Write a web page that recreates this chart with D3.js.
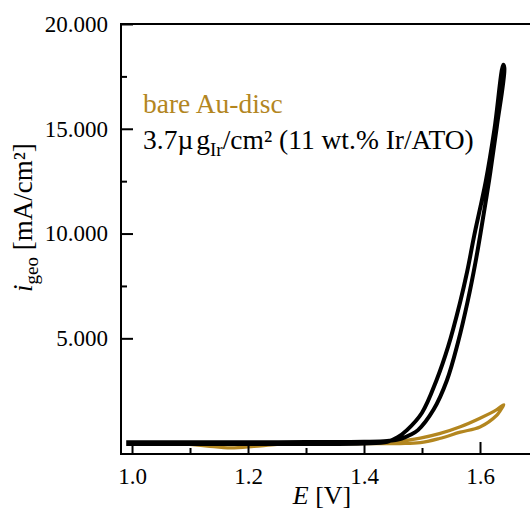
<!DOCTYPE html>
<html>
<head>
<meta charset="utf-8">
<script src="https://cdn.jsdelivr.net/npm/d3@7"></script>
<style>
  body { margin: 0; background: #fff; }
  svg { display: block; font-family: "Liberation Serif", "Times New Roman", serif; }
</style>
</head>
<body>
<div id="chart"></div>
<script>
// data (E in V, i in mA/cm2)
const goldColor = '#b3861f';

// bare Au-disc, anodic then cathodic sweep
const auE = [1.10, 1.13, 1.17, 1.21, 1.25, 1.30, 1.35, 1.40, 1.462, 1.497, 1.53, 1.566, 1.60, 1.629, 1.641,
             1.635, 1.629, 1.60, 1.566, 1.53, 1.497, 1.462, 1.40, 1.30, 1.20, 1.10];
const auI = [-0.06, -0.14, -0.23, -0.16, -0.06, -0.01, 0.02, 0.05, 0.10, 0.24, 0.45, 0.78, 1.19, 1.60, 1.83,
             1.55, 1.33, 0.77, 0.52, 0.22, 0.02, -0.02, -0.02, -0.02, -0.05, -0.06];

// 3.7 ug Ir/cm2 (11 wt.% Ir/ATO)
const irE = [0.99, 1.10, 1.20, 1.30, 1.40, 1.44, 1.465, 1.48, 1.493, 1.52, 1.543, 1.562, 1.579, 1.592, 1.602, 1.616, 1.629, 1.642,
             1.640, 1.625, 1.610, 1.590, 1.578, 1.5655, 1.545, 1.525, 1.50, 1.474, 1.458, 1.44, 1.40, 1.30, 1.20, 1.10, 0.99];
const irI = [0.04, 0.04, 0.04, 0.05, 0.06, 0.10, 0.22, 0.40, 0.62, 1.60, 3.0, 4.8, 6.8, 8.6, 10.2, 12.6, 15.1, 17.9,
             18.05, 15.0, 12.5, 9.9, 8.2, 6.7, 4.6, 3.0, 1.45, 0.62, 0.28, 0.06, -0.02, -0.04, -0.04, -0.04, -0.04];

const xTicks = [1.0, 1.2, 1.4, 1.6];
const xMinor = [1.1, 1.3, 1.5];
const yTicks = [5, 10, 15, 20];
const yMinor = [7.5, 12.5, 17.5];

const w = 530;
const h = 510;

const x = d3.scaleLinear().domain([0.981, 1.70]).range([121, 538]);
const y = d3.scaleLinear().domain([-0.52, 20]).range([454, 24]);

const svg = d3.select('#chart')
    .append('svg')
    .attr('width', w)
    .attr('height', h);

// curves
const line = d3.line()
    .x(d => x(d[0]))
    .y(d => y(d[1]))
    .curve(d3.curveCatmullRom.alpha(0.5));

svg.append('path')
    .datum(auE.map((e, i) => [e, auI[i]]))
    .attr('d', line)
    .attr('fill', 'none')
    .attr('stroke', goldColor)
    .attr('stroke-width', 3.3)
    .attr('stroke-linejoin', 'round');

svg.append('path')
    .datum(irE.map((e, i) => [e, irI[i]]))
    .attr('d', line)
    .attr('fill', 'none')
    .attr('stroke', '#000')
    .attr('stroke-width', 4)
    .attr('stroke-linejoin', 'round');

// frame
svg.append('rect')
    .attr('x', x.range()[0])
    .attr('y', y.range()[1])
    .attr('width', x.range()[1] - x.range()[0])
    .attr('height', y.range()[0] - y.range()[1])
    .attr('fill', 'none')
    .attr('stroke', '#000')
    .attr('stroke-width', 2);

// axes
svg.append('g')
    .attr('transform', `translate(0, ${y.range()[0]})`)
    .call(d3.axisBottom(x).tickValues(xTicks).tickSizeInner(-12).tickSizeOuter(0)
        .tickPadding(14).tickFormat(d3.format('.1f')));
svg.append('g')
    .attr('transform', `translate(0, ${y.range()[0]})`)
    .call(d3.axisBottom(x).tickValues(xMinor).tickSizeInner(-6).tickSizeOuter(0).tickFormat(''));

svg.append('g')
    .attr('transform', `translate(${x.range()[0]}, 0)`)
    .call(d3.axisLeft(y).tickValues(yTicks).tickSizeInner(-12).tickSizeOuter(0)
        .tickPadding(13).tickFormat(d3.format('.3f')));
svg.append('g')
    .attr('transform', `translate(${x.range()[0]}, 0)`)
    .call(d3.axisLeft(y).tickValues(yMinor).tickSizeInner(-6).tickSizeOuter(0).tickFormat(''));

svg.selectAll('.domain').remove();
svg.selectAll('.tick line').attr('stroke', '#000').attr('stroke-width', 2);
svg.selectAll('.tick text')
    .attr('fill', '#000')
    .style('font-family', '"Liberation Serif", "Times New Roman", serif')
    .style('font-size', '23px');

// axis titles
const xTitle = svg.append('text')
    .attr('x', 322)
    .attr('y', 504)
    .attr('text-anchor', 'middle')
    .style('font-size', '26px');
xTitle.append('tspan').style('font-style', 'italic').text('E');
xTitle.append('tspan').text(' [V]');

const yTitle = svg.append('text')
    .attr('transform', 'translate(32, 292) rotate(-90)')
    .attr('text-anchor', 'start')
    .style('font-size', '27px');
yTitle.append('tspan').style('font-style', 'italic').text('i');
yTitle.append('tspan').attr('dy', 6).style('font-size', '19px').text('geo');
yTitle.append('tspan').attr('dy', -6).text(' [mA/cm²]');

// legend
svg.append('text')
    .attr('x', 143)
    .attr('y', 113)
    .attr('fill', goldColor)
    .style('font-size', '27.5px')
    .text('bare Au-disc');

const leg2 = svg.append('text')
    .attr('x', 143)
    .attr('y', 149)
    .attr('fill', '#000')
    .style('font-size', '27.5px');
leg2.append('tspan').text('3.7µ');
leg2.append('tspan').attr('dx', 3).text('g');
leg2.append('tspan').attr('dy', 7).style('font-size', '19px').text('Ir');
leg2.append('tspan').attr('dy', -7).text('/cm² (11 wt.% Ir/ATO)');
</script>
</body>
</html>
